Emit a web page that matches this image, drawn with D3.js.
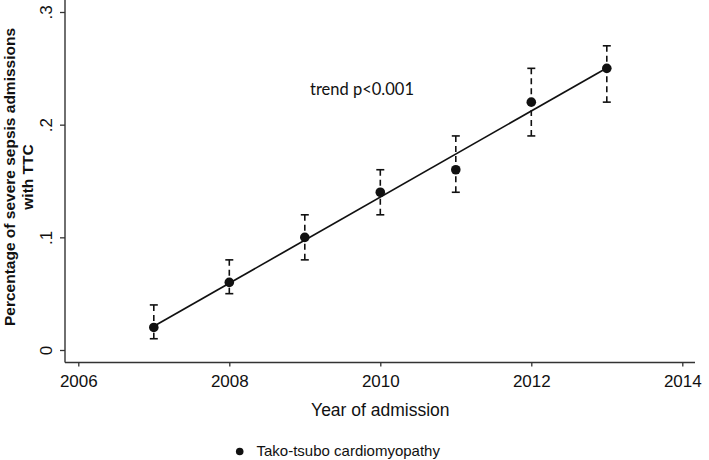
<!DOCTYPE html>
<html>
<head>
<meta charset="utf-8">
<script src="https://cdn.jsdelivr.net/npm/d3@7"></script>
<style>
  html, body { margin: 0; padding: 0; background: #fff; }
  svg { display: block; }
  text { font-family: "Liberation Sans", Arial, sans-serif; fill: #111; }
</style>
</head>
<body>
<svg id="chart" width="709" height="460"></svg>
<script>
const years = [2007, 2008, 2009, 2010, 2011, 2012, 2013];
const pct = [0.02, 0.06, 0.10, 0.14, 0.16, 0.22, 0.25];
const ciLow = [0.01, 0.05, 0.08, 0.12, 0.14, 0.19, 0.22];
const ciHigh = [0.04, 0.08, 0.12, 0.16, 0.19, 0.25, 0.27];
const xTicks = [2006, 2008, 2010, 2012, 2014];
const yTicks = [0, 0.1, 0.2, 0.3];
const yTickLabels = ["0", ".1", ".2", ".3"];
const xTitle = "Year of admission";
const yTitle = ["Percentage of severe sepsis  admissions", "with TTC"];
const annotation = "trend p<0.001";
const legendLabel = "Tako-tsubo cardiomyopathy";

const svg = d3.select("#chart");
svg.append("rect").attr("width", 709).attr("height", 460).attr("fill", "#fff");

const x = d3.scaleLinear().domain([2006, 2014]).range([78.3, 682.3]);
const y = d3.scaleLinear().domain([0, 0.3]).range([350, 12]);

const axisX0 = 65, axisY0 = 362.5;
const axisColor = "#333";

// X axis
const gx = svg.append("g").attr("transform", `translate(0,${axisY0})`)
  .call(d3.axisBottom(x).tickValues(xTicks).tickFormat(d3.format("d")).tickSize(4).tickPadding(8));
gx.select(".domain").remove();
gx.selectAll(".tick line").attr("stroke", axisColor).attr("stroke-width", 1.3);
gx.selectAll(".tick text").style("font-size", "17px").style("font-family", "Liberation Sans, Arial, sans-serif").attr("fill", "#111");
svg.append("line").attr("x1", axisX0).attr("x2", 695).attr("y1", axisY0).attr("y2", axisY0)
  .attr("stroke", axisColor).attr("stroke-width", 1.4);

// Y axis
const gy = svg.append("g").attr("transform", `translate(${axisX0},0)`)
  .call(d3.axisLeft(y).tickValues(yTicks).tickFormat((d, i) => yTickLabels[i]).tickSize(5));
gy.select(".domain").remove();
gy.selectAll(".tick line").attr("stroke", axisColor).attr("stroke-width", 1.3);
gy.selectAll(".tick text")
  .attr("x", 0).attr("dy", 0)
  .attr("transform", "translate(-13,0) rotate(-90)")
  .attr("text-anchor", "middle")
  .style("font-size", "17px").style("font-family", "Liberation Sans, Arial, sans-serif").attr("fill", "#111");
svg.append("line").attr("x1", axisX0).attr("x2", axisX0).attr("y1", 0).attr("y2", axisY0)
  .attr("stroke", axisColor).attr("stroke-width", 1.4);

// Axis titles
svg.append("text").attr("x", x(2010)).attr("y", 416).attr("text-anchor", "middle")
  .style("font-size", "17.5px").text(xTitle);

const yt = svg.append("text").attr("transform", "translate(15,177) rotate(-90)")
  .attr("text-anchor", "middle").style("font-size", "15.5px").style("font-weight", "bold");
yt.append("tspan").attr("x", 0).attr("y", 0).text(yTitle[0]);
yt.append("tspan").attr("x", 0).attr("y", 17.5).text(yTitle[1]);

// Data
const data = years.map((yr, i) => ({ yr, v: pct[i], lo: ciLow[i], hi: ciHigh[i] }));

// Linear fit line
const n = years.length;
const mx = d3.mean(years), my = d3.mean(pct);
const slope = d3.sum(years.map((yr, i) => (yr - mx) * (pct[i] - my))) / d3.sum(years.map(yr => (yr - mx) ** 2));
const icpt = my - slope * mx;
const xr = d3.extent(years);
svg.append("path")
  .attr("d", d3.line().x(d => x(d)).y(d => y(icpt + slope * d))(xr))
  .attr("stroke", "#111").attr("stroke-width", 1.7).attr("fill", "none");

// Error bars
const capW = 4;
const eb = svg.append("g").attr("stroke", "#111").attr("stroke-width", 1.6);
data.forEach(d => {
  const cx = x(d.yr);
  eb.append("line").attr("x1", cx - capW).attr("x2", cx + capW).attr("y1", y(d.hi)).attr("y2", y(d.hi));
  eb.append("line").attr("x1", cx - capW).attr("x2", cx + capW).attr("y1", y(d.lo)).attr("y2", y(d.lo));
  eb.append("line").attr("x1", cx).attr("x2", cx).attr("y1", y(d.hi)).attr("y2", y(d.v))
    .attr("stroke-dasharray", "6,4");
  eb.append("line").attr("x1", cx).attr("x2", cx).attr("y1", y(d.lo)).attr("y2", y(d.v))
    .attr("stroke-dasharray", "6,4");
});

// Points
svg.append("g").selectAll("circle").data(data).join("circle")
  .attr("cx", d => x(d.yr)).attr("cy", d => y(d.v)).attr("r", 4.8).attr("fill", "#111");

// Annotation
svg.append("text").attr("x", 310).attr("y", 95)
  .style("font-family", "Lato, 'Open Sans', sans-serif").style("font-size", "16.5px")
  .text(annotation);

// Legend
svg.append("circle").attr("cx", 239.7).attr("cy", 451.5).attr("r", 3.8).attr("fill", "#111");
svg.append("text").attr("x", 256.5).attr("y", 455.5).style("font-size", "15px").text(legendLabel);
</script>
</body>
</html>
